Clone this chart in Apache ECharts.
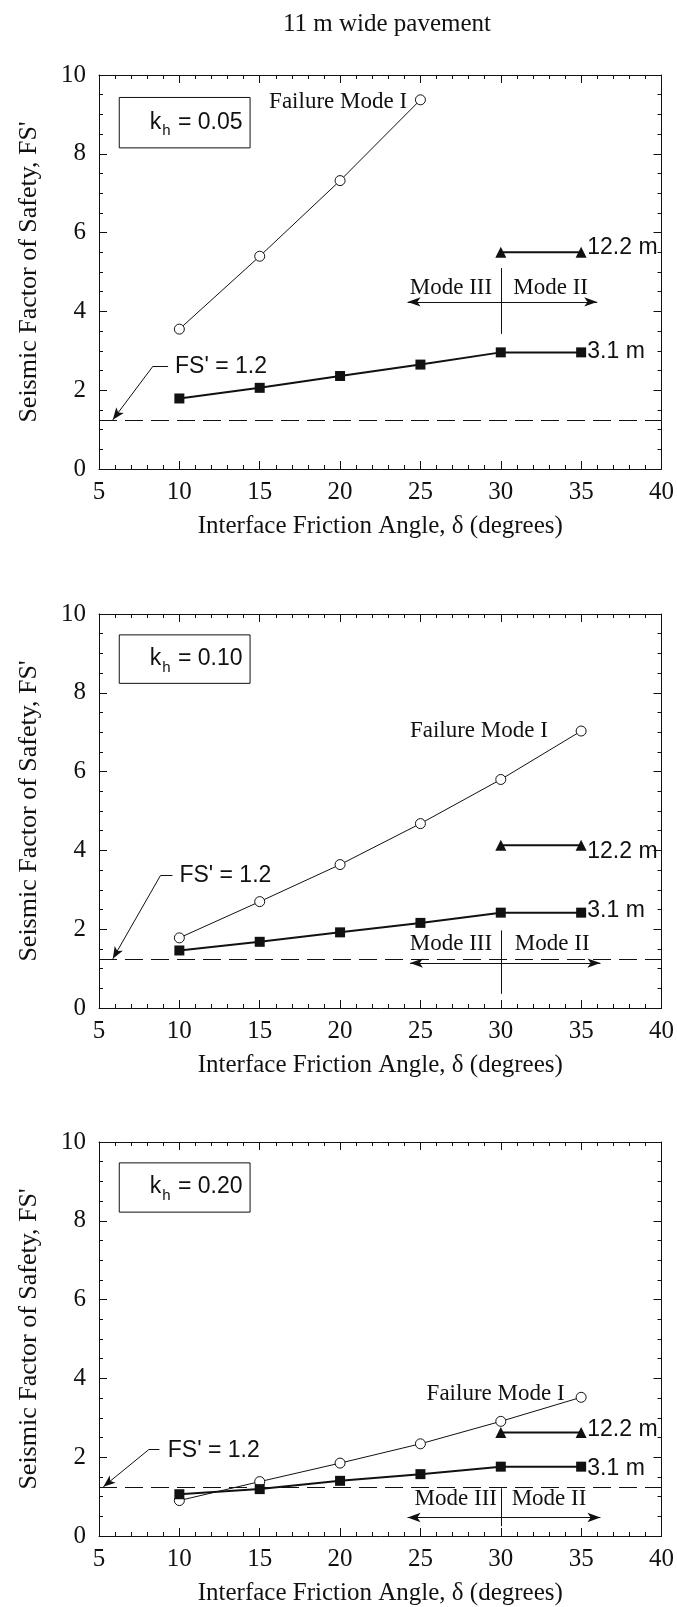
<!DOCTYPE html>
<html>
<head>
<meta charset="utf-8">
<script src="https://cdn.jsdelivr.net/npm/echarts@6/dist/echarts.min.js"></script>
<style>
html,body{margin:0;padding:0;background:#fff;}
#chart{width:677px;height:1607px;}
</style>
</head>
<body>
<div id="chart"></div>
<script>
// ---------------- data ----------------
const titleText = '11 m wide pavement';
const xName = 'Interface Friction Angle, \u03b4 (degrees)';
const yName = "Seismic Factor of Safety, FS'";
const xTicks = [5, 10, 15, 20, 25, 30, 35, 40];
const yTicks = [0, 2, 4, 6, 8, 10];

const angles = [10, 15, 20, 25, 30, 35];
const wallAngles122 = [30, 35];
const fsLimit = 1.23;

const khLabels = ['0.05', '0.10', '0.20'];

const modeI_005 = [3.55, 5.40, 7.32, 9.37];          // angles 10..25
const wall31_005 = [1.79, 2.06, 2.36, 2.65, 2.96, 2.96];
const wall122_005 = [5.50, 5.50];

const modeI_010 = [1.78, 2.70, 3.64, 4.68, 5.80, 7.03];
const wall31_010 = [1.46, 1.68, 1.92, 2.16, 2.42, 2.42];
const wall122_010 = [4.13, 4.13];

const modeI_020 = [0.90, 1.38, 1.85, 2.34, 2.91, 3.52];
const wall31_020 = [1.06, 1.19, 1.40, 1.57, 1.76, 1.76];
const wall122_020 = [2.63, 2.63];

// ---------------- annotation placement (data coordinates) ----------------
const annot = [
  { box: [[6.26, 9.43], [14.4, 8.15]], modeIText: [24.2, 9.31], l122: [35.35, 5.63], l31: [35.35, 2.99],
    fsText: [9.7, 2.61], leader: [[9.3, 2.61], [8.36, 2.61], [5.86, 1.25]],
    divider: [[30, 5.1], [30, 3.43]], arrow: [[24.2, 4.24], [36.0, 4.24]], m3: [26.9, 4.6], m2: [33.1, 4.6] },
  { box: [[6.26, 9.47], [14.4, 8.24]], modeIText: [32.96, 7.03], l122: [35.35, 3.98], l31: [35.35, 2.46],
    fsText: [9.97, 3.36], leader: [[9.57, 3.36], [8.82, 3.36], [5.86, 1.25]],
    divider: [[30, 1.97], [30, 0.36]], arrow: [[24.35, 1.14], [36.2, 1.14]], m3: [26.9, 1.63], m2: [33.2, 1.63] },
  { box: [[6.26, 9.47], [14.4, 8.22]], modeIText: [34.0, 3.6], l122: [35.35, 2.71], l31: [35.35, 1.72],
    fsText: [9.25, 2.17], leader: [[8.76, 2.19], [8.09, 2.19], [5.27, 1.25]],
    divider: [[30, 1.21], [30, 0.25]], arrow: [[24.2, 0.47], [36.2, 0.47]], m3: [27.2, 0.93], m2: [33.0, 0.93] }
];

const modeIData = [modeI_005, modeI_010, modeI_020];
const wall31Data = [wall31_005, wall31_010, wall31_020];
const wall122Data = [wall122_005, wall122_010, wall122_020];

// ---------------- chart ----------------
const SERIF = '"Liberation Serif", "Times New Roman", serif';
const SANS = '"Liberation Sans", Arial, sans-serif';
const INK = '#111';

const gridTops = [75, 614, 1142];
const gridH = 394;

const grids = [], xAxes = [], yAxes = [], series = [];

function pair(xs, ys) { return ys.map((v, i) => [xs[i], v]); }

gridTops.forEach((top, g) => {
  grids.push({ left: 99, right: 14, top: top, height: gridH, containLabel: false });
  const baseX = {
    type: 'value', gridIndex: g, min: 5, max: 40, interval: 5,
    axisLine: { show: true, onZero: false, lineStyle: { color: INK, width: 1 } },
    axisTick: { show: true, inside: true, length: 8, lineStyle: { color: INK } },
    minorTick: { show: true, splitNumber: 5, length: 4, lineStyle: { color: INK } },
    splitLine: { show: false }, minorSplitLine: { show: false }
  };
  xAxes.push(Object.assign({}, baseX, {
    position: 'bottom',
    axisLabel: { show: true, margin: 11, color: INK, fontFamily: SERIF, fontSize: 25,
      formatter: v => (xTicks.indexOf(v) >= 0 ? String(v) : '') },
    name: xName, nameLocation: 'middle', nameGap: 45,
    nameTextStyle: { color: INK, fontFamily: SERIF, fontSize: 25 }
  }));
  xAxes.push(Object.assign({}, baseX, { position: 'top', axisLabel: { show: false } }));
  const baseY = {
    type: 'value', gridIndex: g, min: 0, max: 10, interval: 2,
    axisLine: { show: true, onZero: false, lineStyle: { color: INK, width: 1 } },
    axisTick: { show: true, inside: true, length: 8, lineStyle: { color: INK } },
    minorTick: { show: true, splitNumber: 4, length: 4, lineStyle: { color: INK } },
    splitLine: { show: false }, minorSplitLine: { show: false }
  };
  yAxes.push(Object.assign({}, baseY, {
    position: 'left',
    axisLabel: { show: true, margin: 13, color: INK, fontFamily: SERIF, fontSize: 25,
      formatter: v => (yTicks.indexOf(v) >= 0 ? String(v) : '') },
    name: yName, nameLocation: 'middle', nameGap: 57, nameRotate: 90,
    nameTextStyle: { color: INK, fontFamily: SERIF, fontSize: 26 }
  }));
  yAxes.push(Object.assign({}, baseY, { position: 'right', axisLabel: { show: false } }));

  const xi = g * 2, yi = g * 2;
  const a = annot[g];
  const modeIAngles = angles.slice(0, modeIData[g].length);

  const txt = (coord, text, pos, font) => ({
    coord: coord, symbol: 'circle', symbolSize: 1, itemStyle: { color: 'rgba(0,0,0,0)' },
    label: { show: true, position: pos, distance: 0, formatter: text, color: INK,
      fontFamily: font, fontSize: 23 }
  });

  // reference line + annotations (no own data)
  series.push({
    type: 'line', xAxisIndex: xi, yAxisIndex: yi, data: [], silent: true, z: 1,
    symbol: 'none', showSymbol: false,
    markLine: {
      silent: true, animation: false, symbol: ['none', 'none'],
      label: { show: false },
      lineStyle: { color: INK, width: 1, type: 'solid' },
      data: [
        [{ coord: [5, fsLimit], symbol: 'none', lineStyle: { type: [18, 8], width: 1.2, color: INK } },
         { coord: [40, fsLimit], symbol: 'none' }],
        [{ coord: a.leader[0], symbol: 'none' }, { coord: a.leader[1], symbol: 'none' }],
        [{ coord: a.leader[1], symbol: 'none' }, { coord: a.leader[2], symbol: 'arrow', symbolSize: [7, 12] }],
        [{ coord: a.divider[0], symbol: 'none' }, { coord: a.divider[1], symbol: 'none' }],
        [{ coord: a.arrow[0], symbol: 'arrow', symbolSize: [7, 13] }, { coord: a.arrow[1], symbol: 'arrow', symbolSize: [7, 13] }]
      ]
    },
    markArea: {
      silent: true, animation: false,
      itemStyle: { color: '#fff', borderColor: INK, borderWidth: 1 },
      label: {
        show: true, position: 'insideRight', distance: 8,
        formatter: '{k|k}{s|h}{k| = ' + khLabels[g] + '}',
        rich: {
          k: { fontFamily: SANS, fontSize: 23, color: INK, lineHeight: 24, verticalAlign: 'top' },
          s: { fontFamily: SANS, fontSize: 15, color: INK, lineHeight: 16, padding: [13, 1, 0, 1], verticalAlign: 'top' }
        }
      },
      data: [[{ coord: a.box[0] }, { coord: a.box[1] }]]
    },
    markPoint: {
      silent: true, animation: false,
      data: [
        txt(a.modeIText, 'Failure Mode I', 'left', SERIF),
        txt(a.l122, '12.2 m', 'right', SANS),
        txt(a.l31, '3.1 m', 'right', SANS),
        txt(a.fsText, "FS' = 1.2", 'right', SANS),
        txt(a.m3, 'Mode III', 'inside', SERIF),
        txt(a.m2, 'Mode II', 'inside', SERIF)
      ]
    }
  });
  // Failure Mode I
  series.push({
    name: 'Failure Mode I', type: 'line', xAxisIndex: xi, yAxisIndex: yi, z: 3,
    data: pair(modeIAngles, modeIData[g]),
    symbol: 'circle', symbolSize: 10,
    lineStyle: { color: INK, width: 1 },
    itemStyle: { color: '#fff', borderColor: INK, borderWidth: 1 },
    animation: false, silent: true
  });
  // 3.1 m
  series.push({
    name: '3.1 m', type: 'line', xAxisIndex: xi, yAxisIndex: yi, z: 4,
    data: pair(angles, wall31Data[g]),
    symbol: 'rect', symbolSize: 10,
    lineStyle: { color: INK, width: 2 },
    itemStyle: { color: INK },
    animation: false, silent: true
  });
  // 12.2 m
  series.push({
    name: '12.2 m', type: 'line', xAxisIndex: xi, yAxisIndex: yi, z: 4,
    data: pair(wallAngles122, wall122Data[g]),
    symbol: 'triangle', symbolSize: 11,
    lineStyle: { color: INK, width: 2 },
    itemStyle: { color: INK },
    animation: false, silent: true
  });
});

const chart = echarts.init(document.getElementById('chart'), null, { renderer: 'canvas' });
chart.setOption({
  backgroundColor: '#fff',
  animation: false,
  title: {
    text: titleText, left: 382, top: 7, textAlign: 'center',
    textStyle: { fontFamily: SERIF, fontSize: 25, fontWeight: 'normal', color: INK }
  },
  grid: grids, xAxis: xAxes, yAxis: yAxes, series: series
});
</script>
</body>
</html>
